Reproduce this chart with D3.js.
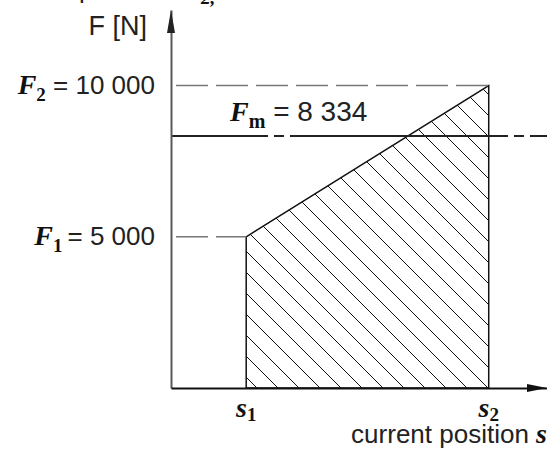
<!DOCTYPE html>
<html>
<head>
<meta charset="utf-8">
<script src="https://cdn.jsdelivr.net/npm/d3@7"></script>
<style>
  html, body { margin: 0; padding: 0; background: #fff; }
  svg { display: block; }
  .sans { font-family: 'Liberation Sans', Arial, sans-serif; fill: #222; }
  .serif { font-family: 'Liberation Serif', 'Times New Roman', serif; font-weight: bold; fill: #111; }
  .axis path { fill: none; }
</style>
</head>
<body>
<svg id="chart"></svg>
<script>
// data
const positionSubs = ['1', '2'];           // s1, s2
const positionValues = [2, 8.45];          // positions on the s axis
const forceSubs = ['1', '2'];              // F1, F2
const forceValues = [5000, 10000];         // forces [N]
const forceLabels = ['5 000', '10 000'];
const meanForce = 8334;
const meanLabel = '8 334';

// dimensions
const width = 547;
const height = 450;

const $svg = d3.select('#chart')
	.attr('width', width)
	.attr('height', height);

// scales
const x = d3.scaleLinear().domain([0, 10]).range([171, 547]);
const y = d3.scaleLinear().domain([0, 12500]).range([388, 10]);

// hatch pattern
$svg.append('defs').append('pattern')
	.attr('id', 'hatch')
	.attr('patternUnits', 'userSpaceOnUse')
	.attr('x', 16)
	.attr('width', 21)
	.attr('height', 21)
	.append('path')
	.attr('d', 'M0,0L21,21M-2,19L2,23M19,-2L23,2')
	.attr('stroke', '#111')
	.attr('stroke-width', 1);

// work area under the force curve
const area = [
	[positionValues[0], 0],
	[positionValues[0], forceValues[0]],
	[positionValues[1], forceValues[1]],
	[positionValues[1], 0]
];
$svg.append('path')
	.attr('d', d3.line().x(d => x(d[0])).y(d => y(d[1]))(area) + 'Z')
	.attr('fill', 'url(#hatch)')
	.attr('stroke', '#111')
	.attr('stroke-width', 1.5);

// dashed guide lines for F1, F2
$svg.selectAll('.guide')
	.data(forceValues)
	.enter()
	.append('line')
	.attr('class', 'guide')
	.attr('x1', x(0) + 5)
	.attr('x2', (d, i) => x(positionValues[i]))
	.attr('y1', d => y(d))
	.attr('y2', d => y(d))
	.attr('stroke', '#777')
	.attr('stroke-width', 1.5)
	.attr('stroke-dasharray', '32,8');

// mean force line
$svg.append('line')
	.attr('x1', x(0))
	.attr('x2', x(10))
	.attr('y1', y(meanForce))
	.attr('y2', y(meanForce))
	.attr('stroke', '#222')
	.attr('stroke-width', 2)
	.attr('stroke-dasharray', '218,6,10,6')
	.attr('stroke-dashoffset', 121);

// axes
$svg.append('g')
	.attr('class', 'axis axis--y')
	.attr('transform', 'translate(' + x(0) + ',0)')
	.call(d3.axisLeft(y).tickValues([]).tickSizeOuter(0))
	.select('.domain')
	.attr('stroke', '#5a5a5a')
	.attr('stroke-width', 2);

$svg.append('g')
	.attr('class', 'axis axis--x')
	.attr('transform', 'translate(0,' + y(0) + ')')
	.call(d3.axisBottom(x).tickValues([]).tickSizeOuter(0))
	.select('.domain')
	.attr('stroke', '#111')
	.attr('stroke-width', 2);

// arrow heads
const yTop = y.domain()[1];
$svg.append('path')
	.attr('d', 'M' + x(0) + ',' + y(yTop) + 'l4,23l-8,0Z')
	.attr('fill', '#222');
$svg.append('path')
	.attr('d', 'M' + x(10) + ',' + y(0) + 'l-20,-4l0,8Z')
	.attr('fill', '#111');

// force labels on the left
forceValues.forEach(function(f, i) {
	const t = $svg.append('text')
		.attr('x', 155)
		.attr('y', y(f) + 8)
		.attr('text-anchor', 'end');
	t.append('tspan').attr('class', 'serif').style('font-style', 'italic').style('font-size', '28px').text('F');
	t.append('tspan').attr('class', 'serif').style('font-size', '19px').attr('dy', 7).text(forceSubs[i]);
	t.append('tspan').attr('class', 'sans').style('font-size', '26px').attr('dy', -7)
		.attr('dx', i === 0 ? 5 : 0)
		.text((i === 0 ? '' : ' ') + '= ' + forceLabels[i]);
});

// mean force label
const tm = $svg.append('text')
	.attr('x', 230)
	.attr('y', y(meanForce) - 15);
tm.append('tspan').attr('class', 'serif').style('font-style', 'italic').style('font-size', '28px').text('F');
tm.append('tspan').attr('class', 'serif').style('font-size', '20px').attr('dy', 7).text('m');
tm.append('tspan').attr('class', 'sans').style('font-size', '28px').attr('dy', -7).text(' = ' + meanLabel);

// axis titles
$svg.append('text')
	.attr('class', 'sans')
	.attr('x', 147)
	.attr('y', 35)
	.attr('text-anchor', 'end')
	.style('font-size', '27px')
	.text('F [N]');

const tx = $svg.append('text')
	.attr('x', 547)
	.attr('y', 443)
	.attr('text-anchor', 'end');
tx.append('tspan').attr('class', 'sans').style('font-size', '26px').text('current position ');
tx.append('tspan').attr('class', 'serif').style('font-style', 'italic').style('font-size', '28px').text('s');

// position labels under the axis
positionValues.forEach(function(s, i) {
	const t = $svg.append('text')
		.attr('x', x(s))
		.attr('y', 417)
		.attr('text-anchor', 'middle');
	t.append('tspan').attr('class', 'serif').style('font-style', 'italic').style('font-size', '28px').text('s');
	t.append('tspan').attr('class', 'serif').style('font-size', '19px').attr('dy', 4).text(positionSubs[i]);
});

// clipped caption line above the chart
$svg.append('text').attr('class', 'sans').attr('x', 79).attr('y', -2).style('font-size', '26px').text('p');
$svg.append('text').attr('class', 'serif').attr('x', 201).attr('y', 4)
	.style('font-style', 'italic').style('font-size', '19px').text('2,');
</script>
</body>
</html>
